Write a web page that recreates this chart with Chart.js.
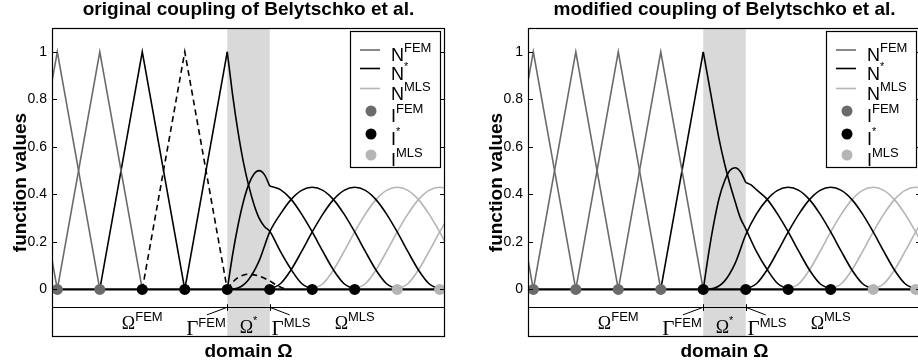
<!DOCTYPE html>
<html>
<head>
<meta charset="utf-8">
<script src="https://cdn.jsdelivr.net/npm/chart.js@4.4.0/dist/chart.umd.min.js"></script>
<style>
  html, body { margin: 0; padding: 0; background: #fff; overflow: hidden; }
  #wrap { position: relative; width: 918px; height: 364px; overflow: hidden; }
  canvas { position: absolute; top: 0; }
  #left { left: 0; }
  #right { left: 476px; }
</style>
</head>
<body>
<div id="wrap">
  <canvas id="left" width="459" height="364"></canvas>
  <canvas id="right" width="459" height="364"></canvas>
</div>
<script>
// axes + nodes
const xRange = [-0.125, 9.125];
const yRange = [-0.2, 1.1];
const yTicks = [0, 0.2, 0.4, 0.6, 0.8, 1];
const transition = [4, 5]; // Omega* lies between Gamma^FEM and Gamma^MLS
const nodeX = [0, 1, 2, 3, 4, 5, 6, 7, 8, 9];

const origFemNodes = [0, 1];
const origStarNodes = [2, 3, 4, 5, 6, 7];
const origMlsNodes = [8, 9];
const modFemNodes = [0, 1, 2, 3];
const modStarNodes = [4, 5, 6, 7];
const modMlsNodes = [8, 9];

// FEM hat functions
const hatM1 = [[-0.125, 0.125], [0, 0]];
const hat0 = [[-0.125, 0.875], [0, 1], [1, 0]];
const hat1 = [[0, 0], [1, 1], [2, 0]];
const hat2 = [[1, 0], [2, 1], [3, 0]];
const hat3 = [[2, 0], [3, 1], [4, 0]];
const hat4Rise = [[3, 0], [4, 1]];

// original coupling
const origN3Tail = [[4, 0], [4.125, 0.03], [4.25, 0.05], [4.375, 0.06], [4.5, 0.064], [4.75, 0.056], [5, 0.036], [5.125, 0.022], [5.25, 0.01], [5.4, 0]];
const origN4 = [[4, 1], [4.125, 0.82], [4.25, 0.667], [4.375, 0.54], [4.5, 0.44], [4.625, 0.36], [4.75, 0.3], [4.875, 0.265], [5, 0.245], [5.25, 0.16], [5.5, 0.085], [5.75, 0.025], [6, 0]];
const origN5 = [[4, 0], [4.125, 0.145], [4.25, 0.267], [4.375, 0.366], [4.5, 0.44], [4.625, 0.485], [4.75, 0.5], [4.875, 0.483], [5, 0.435]];
const origN5Tail = [[5, 0.435], [5.25, 0.42], [5.5, 0.38], [5.75, 0.317], [6, 0.242], [6.25, 0.16], [6.5, 0.082], [6.75, 0.024], [7, 0]];
const origN6 = [[4, 0], [4.25, 0.006], [4.5, 0.041], [4.75, 0.12], [5, 0.242], [5.25, 0.317], [5.5, 0.378], [5.75, 0.417], [6, 0.43], [6.25, 0.417], [6.5, 0.378], [6.75, 0.317], [7, 0.242], [7.25, 0.16], [7.5, 0.082], [7.75, 0.024], [8, 0]];

// modified coupling
const modN4 = [[4, 1], [4.125, 0.875], [4.25, 0.75], [4.375, 0.63], [4.5, 0.53], [4.625, 0.445], [4.75, 0.37], [4.875, 0.3], [5, 0.255], [5.25, 0.16], [5.5, 0.085], [5.75, 0.025], [6, 0]];
const modN5 = [[4, 0], [4.125, 0.15], [4.25, 0.28], [4.375, 0.385], [4.5, 0.455], [4.625, 0.5], [4.75, 0.512], [4.875, 0.495], [5, 0.45]];
const modN5Tail = [[5, 0.45], [5.125, 0.44], [5.25, 0.42], [5.5, 0.38], [5.75, 0.317], [6, 0.242], [6.25, 0.16], [6.5, 0.082], [6.75, 0.024], [7, 0]];
const modN6 = [[4, 0], [4.25, 0.005], [4.5, 0.035], [4.75, 0.11], [5, 0.23], [5.25, 0.317], [5.5, 0.378], [5.75, 0.417], [6, 0.43], [6.25, 0.417], [6.5, 0.378], [6.75, 0.317], [7, 0.242], [7.25, 0.16], [7.5, 0.082], [7.75, 0.024], [8, 0]];

// MLS functions (same in both)
const mlsN7 = [[5, 0], [5.25, 0.024], [5.5, 0.082], [5.75, 0.16], [6, 0.242], [6.25, 0.317], [6.5, 0.378], [6.75, 0.417], [7, 0.43], [7.25, 0.417], [7.5, 0.378], [7.75, 0.317], [8, 0.242], [8.25, 0.16], [8.5, 0.082], [8.75, 0.024], [9, 0]];
const mlsN8 = [[6, 0], [6.25, 0.024], [6.5, 0.082], [6.75, 0.16], [7, 0.242], [7.25, 0.317], [7.5, 0.378], [7.75, 0.417], [8, 0.43], [8.25, 0.417], [8.5, 0.378], [8.75, 0.317], [9, 0.242], [9.125, 0.2]];
const mlsN9 = [[7, 0], [7.25, 0.024], [7.5, 0.082], [7.75, 0.16], [8, 0.242], [8.25, 0.317], [8.5, 0.378], [8.75, 0.417], [9, 0.43], [9.125, 0.427]];
const mlsN10 = [[8, 0], [8.25, 0.024], [8.5, 0.082], [8.75, 0.16], [9, 0.242], [9.125, 0.28]];

const GRAY = "#6b6b6b";
const LIGHT = "#b5b5b5";
const BLACK = "#000000";
const SHADE = "#d9d9d9";
const SANS = "'Liberation Sans', Arial, sans-serif";
const SERIF = "'Liberation Serif', 'Times New Roman', serif";

Chart.defaults.font.family = SANS;
Chart.defaults.color = "#000";

const pts = arr => arr.map(p => ({ x: p[0], y: p[1] }));

function curve(arr, color, opts = {}) {
  return Object.assign({
    data: pts(arr), showLine: true, borderColor: color, borderWidth: 1.6,
    pointRadius: 0, tension: 0, order: 3
  }, opts);
}
function smooth(arr, color, opts = {}) {
  return curve(arr, color, Object.assign({ cubicInterpolationMode: "monotone" }, opts));
}
function nodes(idx, color) {
  return {
    data: idx.map(i => ({ x: nodeX[i], y: 0 })), showLine: false,
    pointRadius: 5.5, pointBackgroundColor: color, pointBorderWidth: 0, order: 0
  };
}

function supText(ctx, x, y, base, sup, baseFont, supFont, rise, center) {
  ctx.font = baseFont;
  const wb = ctx.measureText(base).width;
  ctx.font = supFont;
  const ws = ctx.measureText(sup).width;
  const sx = center ? x - (wb + ws) / 2 : x;
  ctx.textAlign = "left";
  ctx.textBaseline = "alphabetic";
  ctx.font = baseFont;
  ctx.fillText(base, sx, y);
  ctx.font = supFont;
  ctx.fillText(sup, sx + wb, y - rise);
}

const legendRows = [
  { kind: "line", color: GRAY, base: "N", sup: "FEM" },
  { kind: "line", color: BLACK, base: "N", sup: "*" },
  { kind: "line", color: LIGHT, base: "N", sup: "MLS" },
  { kind: "dot", color: GRAY, base: "I", sup: "FEM" },
  { kind: "dot", color: BLACK, base: "I", sup: "*" },
  { kind: "dot", color: LIGHT, base: "I", sup: "MLS" }
];

const regionLabels = [
  { x: 2, y: -0.167, base: "\u03A9", sup: "FEM", size: 18 },
  { x: 3.5, y: -0.192, base: "\u0393", sup: "FEM", size: 21 },
  { x: 4.5, y: -0.184, base: "\u03A9", sup: "*", size: 18 },
  { x: 5.5, y: -0.192, base: "\u0393", sup: "MLS", size: 21 },
  { x: 7, y: -0.167, base: "\u03A9", sup: "MLS", size: 18 }
];

function decorations(title) {
  return {
    id: "deco",
    beforeDatasetsDraw(chart) {
      const { ctx, chartArea: a, scales: { x } } = chart;
      const x0 = x.getPixelForValue(transition[0]);
      const x1 = x.getPixelForValue(transition[1]);
      ctx.save();
      ctx.fillStyle = SHADE;
      ctx.fillRect(x0, a.top, x1 - x0, a.bottom - a.top);
      ctx.restore();
    },
    afterDraw(chart) {
      const { ctx, chartArea: a, scales: { x, y } } = chart;
      const px = v => x.getPixelForValue(v);
      const py = v => y.getPixelForValue(v);
      ctx.save();
      ctx.strokeStyle = BLACK;
      ctx.fillStyle = BLACK;

      // band under the zero line
      ctx.lineWidth = 1;
      const by = Math.round(py(-0.075)) + 0.5;
      ctx.beginPath();
      ctx.moveTo(a.left, by); ctx.lineTo(a.right, by);
      transition.forEach(t => {
        const tx = Math.round(px(t)) + 0.5;
        ctx.moveTo(tx, py(-0.062)); ctx.lineTo(tx, py(-0.09));
      });
      ctx.moveTo(px(3.52), py(-0.107)); ctx.lineTo(px(4), py(-0.075));
      ctx.moveTo(px(5), py(-0.075)); ctx.lineTo(px(5.47), py(-0.107));
      ctx.stroke();

      regionLabels.forEach(l => {
        const rise = l.sup === "*" ? 9 : 8;
        const sf = l.sup === "*" ? "11px " + SANS : "13px " + SANS;
        supText(ctx, px(l.x), py(l.y), l.base, l.sup, l.size + "px " + SERIF, sf, rise, true);
      });

      // axes box + inside ticks
      ctx.lineWidth = 1.2;
      ctx.strokeRect(a.left + 0.5, a.top + 0.5, a.right - a.left - 1, a.bottom - a.top - 1);
      ctx.beginPath();
      yTicks.forEach(v => {
        const ty = Math.round(py(v)) + 0.5;
        ctx.moveTo(a.left, ty); ctx.lineTo(a.left + 5, ty);
        ctx.moveTo(a.right, ty); ctx.lineTo(a.right - 5, ty);
      });
      ctx.stroke();

      // legend
      const lx = a.right - 95, ly = a.top + 3, lw = 90, lh = 136;
      ctx.fillStyle = "#fff";
      ctx.fillRect(lx, ly, lw, lh);
      ctx.lineWidth = 1.2;
      ctx.strokeRect(lx + 0.5, ly + 0.5, lw, lh);
      const rowY = [19, 37.5, 57.5, 80, 103, 124];
      legendRows.forEach((r, i) => {
        const cy = ly + rowY[i];
        if (r.kind === "line") {
          ctx.strokeStyle = r.color;
          ctx.lineWidth = 1.6;
          ctx.beginPath();
          ctx.moveTo(lx + 10, cy); ctx.lineTo(lx + 30, cy);
          ctx.stroke();
        } else {
          ctx.fillStyle = r.color;
          ctx.beginPath();
          ctx.arc(lx + 21, cy, 5.5, 0, Math.PI * 2);
          ctx.fill();
        }
        ctx.fillStyle = BLACK;
        const sf = r.sup === "*" ? "11px " + SANS : "13px " + SANS;
        supText(ctx, lx + 41, cy + 11, r.base, r.sup, "18px " + SANS, sf, r.sup === "*" ? 10 : 9, false);
      });

      // titles
      ctx.fillStyle = BLACK;
      ctx.textAlign = "center";
      ctx.textBaseline = "alphabetic";
      ctx.font = "bold 19px " + SANS;
      const cx = (a.left + a.right) / 2;
      ctx.fillText(title, cx, 15);
      ctx.fillText("domain \u03A9", cx, 357);
      ctx.translate(26, (a.top + a.bottom) / 2);
      ctx.rotate(-Math.PI / 2);
      ctx.fillText("function values", 0, 0);
      ctx.restore();
    }
  };
}

function makeChart(id, title, datasets) {
  return new Chart(document.getElementById(id), {
    type: "scatter",
    data: { datasets: datasets },
    options: {
      responsive: false,
      animation: false,
      events: [],
      layout: { padding: { left: 0, right: 14, top: 28, bottom: 27 } },
      plugins: { legend: { display: false }, tooltip: { enabled: false } },
      scales: {
        x: { type: "linear", min: xRange[0], max: xRange[1], display: false },
        y: {
          type: "linear", min: yRange[0], max: yRange[1],
          afterFit: s => { s.width = 52; },
          afterBuildTicks: s => { s.ticks = yTicks.map(v => ({ value: v })); },
          grid: { display: false, drawTicks: false },
          border: { display: false },
          ticks: { padding: 5, font: { size: 14 }, color: "#000", callback: v => String(v) }
        }
      }
    },
    plugins: [decorations(title)]
  });
}

const zeroLine = curve([[xRange[0], 0], [xRange[1], 0]], BLACK, { borderWidth: 2.2, order: 1 });

makeChart("left", "original coupling of Belytschko et al.", [
  nodes(origFemNodes, GRAY),
  nodes(origStarNodes, BLACK),
  nodes(origMlsNodes, LIGHT),
  zeroLine,
  curve(hatM1, GRAY), curve(hat0, GRAY), curve(hat1, GRAY),
  curve(hat2, BLACK),
  curve(hat3, BLACK, { borderDash: [6, 4] }),
  smooth(origN3Tail, BLACK, { borderDash: [6, 4] }),
  curve(hat4Rise, BLACK),
  smooth(origN4, BLACK), smooth(origN5, BLACK), smooth(origN5Tail, BLACK),
  smooth(origN6, BLACK), smooth(mlsN7, BLACK),
  smooth(mlsN8, LIGHT), smooth(mlsN9, LIGHT), smooth(mlsN10, LIGHT)
]);

makeChart("right", "modified coupling of Belytschko et al.", [
  nodes(modFemNodes, GRAY),
  nodes(modStarNodes, BLACK),
  nodes(modMlsNodes, LIGHT),
  zeroLine,
  curve(hatM1, GRAY), curve(hat0, GRAY), curve(hat1, GRAY),
  curve(hat2, GRAY), curve(hat3, GRAY),
  curve(hat4Rise, BLACK),
  smooth(modN4, BLACK), smooth(modN5, BLACK), smooth(modN5Tail, BLACK),
  smooth(modN6, BLACK), smooth(mlsN7, BLACK),
  smooth(mlsN8, LIGHT), smooth(mlsN9, LIGHT), smooth(mlsN10, LIGHT)
]);
</script>
</body>
</html>
